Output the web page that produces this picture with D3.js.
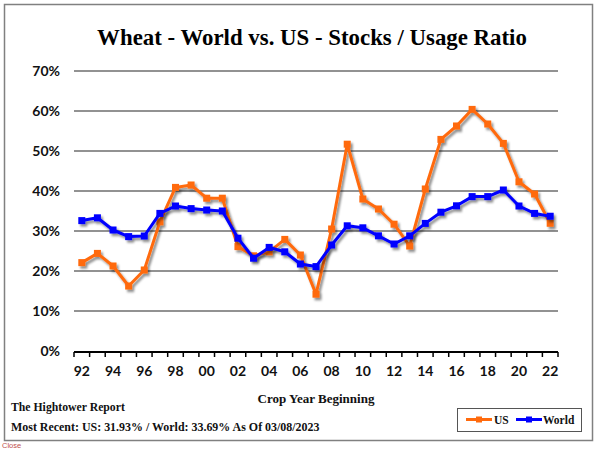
<!DOCTYPE html>
<html>
<head>
<meta charset="utf-8">
<script src="https://cdn.jsdelivr.net/npm/d3@7"></script>
<style>
  html, body { margin: 0; padding: 0; background: #fff; }
  svg { display: block; }
</style>
</head>
<body>
<svg id="chart" width="600" height="449"></svg>
<script>
const years = d3.range(1992, 2023);
const usValues = [22.1, 24.4, 21.25, 16.25, 20.25, 32.3, 40.9, 41.5, 38.2, 38.2, 26.1, 23.8, 24.8, 27.9, 24.0, 14.2, 30.5, 51.7, 38.0, 35.5, 31.7, 26.25, 40.5, 52.9, 56.25, 60.4, 56.75, 51.9, 42.3, 39.25, 31.93];
const worldValues = [32.6, 33.3, 30.25, 28.6, 28.75, 34.4, 36.25, 35.6, 35.25, 35.0, 28.2, 23.2, 25.9, 24.8, 21.75, 21.1, 26.5, 31.3, 30.8, 28.8, 26.75, 28.8, 31.9, 34.7, 36.3, 38.6, 38.6, 40.25, 36.25, 34.4, 33.69];
const yTicks = [0, 10, 20, 30, 40, 50, 60, 70];
const xLabelYears = years.filter(y => y % 2 === 0);
const titleText = "Wheat - World vs. US - Stocks / Usage Ratio";
const axisTitle = "Crop Year Beginning";
const sourceText = "The Hightower Report";
const recentText = "Most Recent: US: 31.93% / World: 33.69% As Of 03/08/2023";
const series = [
  { name: "US", values: usValues, color: "#FF6A0D" },
  { name: "World", values: worldValues, color: "#0000FF" }
];

const svg = d3.select("#chart");
const serif = "'Liberation Serif', 'DejaVu Serif', serif";
const sans = "Lato, 'Open Sans', sans-serif";

const defs = svg.append("defs");
const f = defs.append("filter").attr("id", "shadow").attr("x", "-10%").attr("y", "-10%").attr("width", "130%").attr("height", "130%");
f.append("feDropShadow").attr("dx", 2).attr("dy", 2.5).attr("stdDeviation", 1.2)
  .attr("flood-color", "#000").attr("flood-opacity", 0.45);

// outer frame
svg.append("rect").attr("x", 4.5).attr("y", 4.5).attr("width", 588).attr("height", 436)
  .attr("fill", "#fff").attr("stroke", "#808080").attr("stroke-width", 1.5);

const x = d3.scaleBand().domain(years).range([74, 558]).padding(0);
const bw = x.bandwidth();
const cx = d => x(d) + bw / 2;
const y = d3.scaleLinear().domain([0, 70]).range([351, 71]);

// fit helper
function fit(sel, target) {
  const w = sel.node().getComputedTextLength();
  const fs = parseFloat(sel.attr("font-size"));
  sel.attr("font-size", fs * target / w);
}

// title
const t = svg.append("text").attr("x", 312).attr("y", 45).attr("text-anchor", "middle")
  .attr("font-family", serif).attr("font-weight", "bold").attr("font-size", 22).attr("fill", "#000")
  .text(titleText);
fit(t, 430);

// gridlines
svg.append("g").selectAll("line").data(yTicks.filter(v => v > 0)).join("line")
  .attr("x1", 74).attr("x2", 558).attr("y1", d => y(d)).attr("y2", d => y(d))
  .attr("stroke", "#6e6e6e").attr("stroke-width", 1.6);

// y labels
svg.append("g").selectAll("text").data(yTicks).join("text")
  .attr("x", 60).attr("y", d => y(d) + 5).attr("text-anchor", "end")
  .attr("font-family", sans).attr("font-weight", "bold").attr("font-size", 14).attr("fill", "#111")
  .text(d => d + "%");

// x axis
const axisG = svg.append("g");
axisG.append("line").attr("x1", 74).attr("x2", 558).attr("y1", 352).attr("y2", 352)
  .attr("stroke", "#000").attr("stroke-width", 1.8);
axisG.selectAll("line.tick").data(years.concat([2023])).join("line").attr("class", "tick")
  .attr("x1", d => d === 2023 ? 558 : x(d)).attr("x2", d => d === 2023 ? 558 : x(d))
  .attr("y1", 352).attr("y2", 357).attr("stroke", "#000").attr("stroke-width", 1.5);
axisG.selectAll("text").data(xLabelYears).join("text")
  .attr("x", d => cx(d)).attr("y", 376).attr("text-anchor", "middle")
  .attr("font-family", sans).attr("font-weight", "bold").attr("font-size", 14).attr("fill", "#111")
  .text(d => String(d % 100).padStart(2, "0"));

// axis title
const at = svg.append("text").attr("x", 316).attr("y", 403).attr("text-anchor", "middle")
  .attr("font-family", serif).attr("font-weight", "bold").attr("font-size", 13).attr("fill", "#111")
  .text(axisTitle);
fit(at, 117);

// source texts
const st = svg.append("text").attr("x", 11).attr("y", 411)
  .attr("font-family", serif).attr("font-weight", "bold").attr("font-size", 11).attr("fill", "#111")
  .text(sourceText);
fit(st, 114);
const rt = svg.append("text").attr("x", 11).attr("y", 431)
  .attr("font-family", serif).attr("font-weight", "bold").attr("font-size", 11).attr("fill", "#111")
  .text(recentText);
fit(rt, 309);

// series
const line = d3.line().x((d, i) => cx(years[i])).y(d => y(d));
const ms = 7;
series.forEach(s => {
  const g = svg.append("g").attr("filter", "url(#shadow)");
  g.append("path").datum(s.values).attr("d", line).attr("fill", "none")
    .attr("stroke", s.color).attr("stroke-width", 3).attr("stroke-linejoin", "round");
  g.selectAll("rect").data(s.values).join("rect")
    .attr("x", (d, i) => cx(years[i]) - ms / 2).attr("y", d => y(d) - ms / 2)
    .attr("width", ms).attr("height", ms).attr("fill", s.color);
});

// legend
svg.append("rect").attr("x", 457.5).attr("y", 408.5).attr("width", 124).attr("height", 23)
  .attr("fill", "#fff").attr("stroke", "#555").attr("stroke-width", 1);
const legendItems = [
  { s: series[0], x1: 466, x2: 492, tx: 494 },
  { s: series[1], x1: 516, x2: 542, tx: 543 }
];
legendItems.forEach(li => {
  svg.append("line").attr("x1", li.x1).attr("x2", li.x2).attr("y1", 419.5).attr("y2", 419.5)
    .attr("stroke", li.s.color).attr("stroke-width", 3);
  svg.append("rect").attr("x", (li.x1 + li.x2) / 2 - 3).attr("y", 416.5).attr("width", 6).attr("height", 6)
    .attr("fill", li.s.color);
  svg.append("text").attr("x", li.tx).attr("y", 423.5)
    .attr("font-family", serif).attr("font-weight", "bold").attr("font-size", 11.5).attr("fill", "#111")
    .text(li.s.name);
});

// close link
svg.append("text").attr("x", 2).attr("y", 448).attr("font-family", "'Liberation Sans', sans-serif")
  .attr("font-size", 7.5).attr("fill", "#c0504d").text("Close");
</script>
</body>
</html>
